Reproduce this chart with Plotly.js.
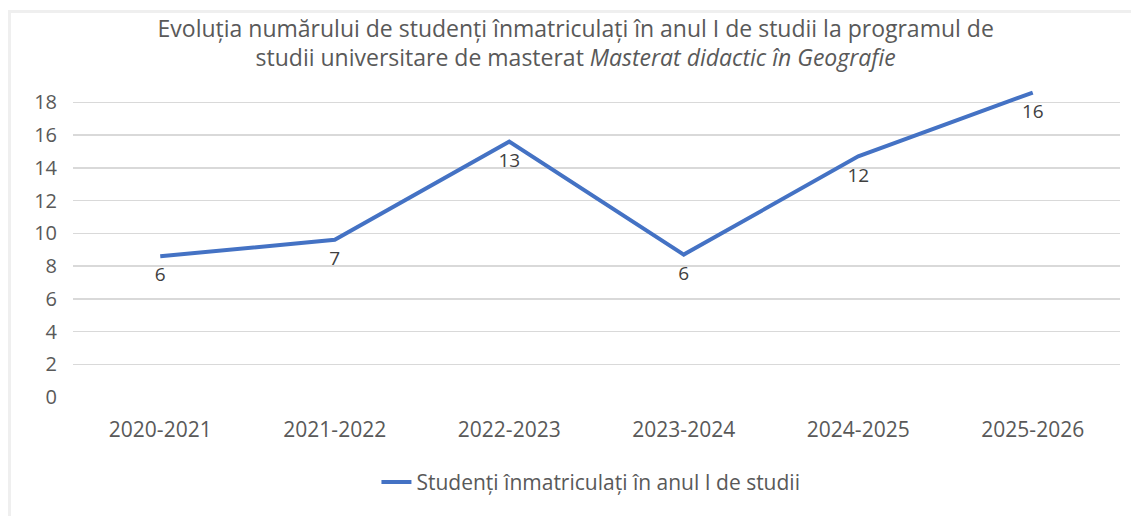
<!DOCTYPE html>
<html>
<head>
<meta charset="utf-8">
<script src="https://cdn.plot.ly/plotly-3.0.1.min.js"></script>
<style>
  html, body { margin:0; padding:0; background:#fff; }
  #frame { position:absolute; left:8px; top:10px; width:1200px; height:600px;
           border-left:3px solid #efefef; border-top:3px solid #efefef; }
  #chart { position:absolute; left:0; top:0; width:1131px; height:516px; }
</style>
</head>
<body>
<div id="frame"></div>
<div id="chart"></div>
<script>
// Academic years (categories)
const years = ['2020-2021', '2021-2022', '2022-2023', '2023-2024', '2024-2025', '2025-2026'];
// Data labels shown on the chart (number of enrolled students)
const labelValues = [6, 7, 13, 6, 12, 16];
// Height at which the line is actually drawn in the picture
const plottedValues = [8.6, 9.6, 15.6, 8.7, 14.7, 18.6];
// Y axis tick labels
const yTicks = [0, 2, 4, 6, 8, 10, 12, 14, 16, 18];

const seriesName = 'Studenți înmatriculați în anul I de studii';
const titleText = 'Evoluția numărului de studenți înmatriculați în anul I de studii la programul de<br>studii universitare de masterat <i>Masterat didactic în Geografie</i>';

const FONT = 'Open Sans, Noto Sans, sans-serif';
const GREY = '#595959';

const trace = {
  x: years,
  y: plottedValues,
  text: labelValues.map(String),
  mode: 'lines+markers+text',
  textposition: 'bottom center',
  textfont: { family: FONT, size: 19, color: '#404040' },
  line: { color: '#4472C4', width: 4 },
  marker: { size: 16, color: 'rgba(0,0,0,0)' },
  name: seriesName,
  cliponaxis: false,
  hoverinfo: 'x+text'
};

const layout = {
  width: 1131, height: 516,
  paper_bgcolor: 'rgba(0,0,0,0)',
  plot_bgcolor: 'rgba(0,0,0,0)',
  margin: { l: 73, r: 11, t: 86, b: 119, autoexpand: false },
  font: { family: FONT, color: GREY },
  title: {
    text: titleText,
    font: { family: FONT, size: 23, color: GREY },
    x: 0.509, xanchor: 'center', xref: 'container',
    y: 1 - 36.5 / 516, yanchor: 'middle', yref: 'container'
  },
  xaxis: {
    type: 'category',
    range: [-0.5, years.length - 0.5],
    showgrid: false, zeroline: false, showline: false,
    ticks: '',
    tickfont: { family: FONT, size: 21, color: GREY },
    ticklabelstandoff: 18,
    fixedrange: true
  },
  yaxis: {
    range: [0, 19],
    tickvals: yTicks,
    ticktext: yTicks.map(String),
    showgrid: true, gridcolor: '#d9d9d9', gridwidth: 1.5,
    zeroline: false, showline: false,
    ticks: '',
    tickfont: { family: FONT, size: 20, color: GREY },
    ticklabelstandoff: 15,
    fixedrange: true
  },
  showlegend: true,
  legend: {
    orientation: 'h',
    x: 0.5225, xanchor: 'center', xref: 'container',
    y: 0.065, yanchor: 'middle', yref: 'container',
    font: { family: FONT, size: 21, color: GREY },
    bgcolor: 'rgba(0,0,0,0)'
  }
};

Plotly.newPlot('chart', [trace], layout, { displayModeBar: false, staticPlot: true });
</script>
</body>
</html>
